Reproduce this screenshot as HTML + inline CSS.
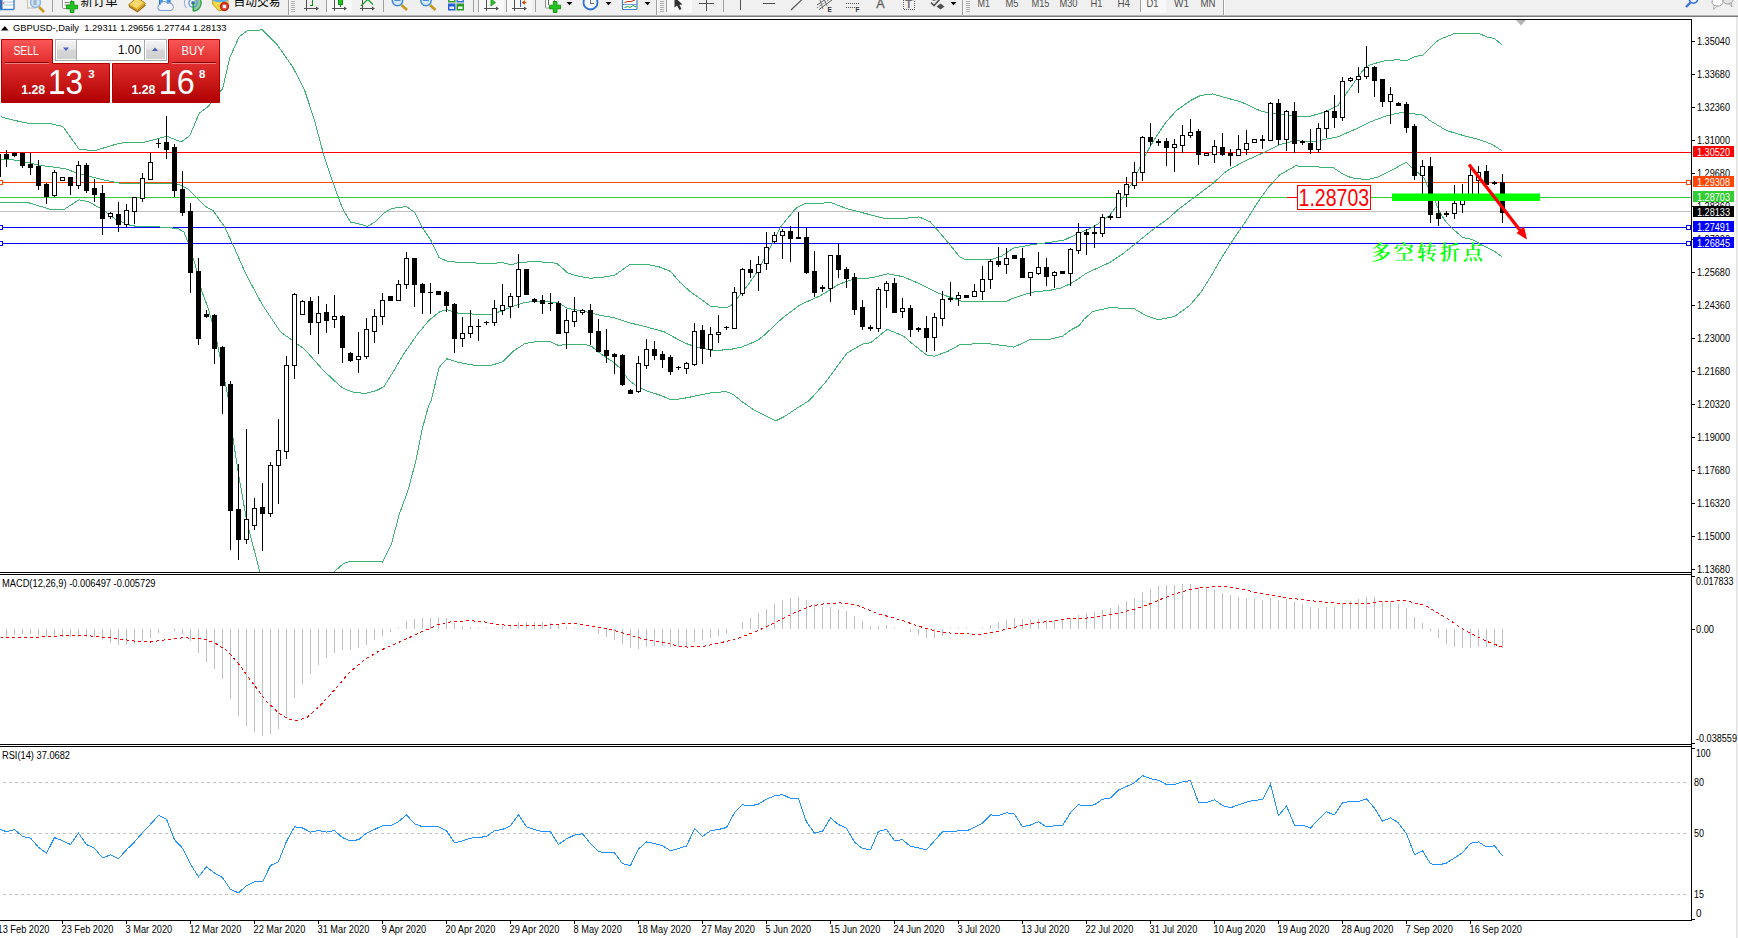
<!DOCTYPE html>
<html lang="zh"><head><meta charset="utf-8"><title>GBPUSD-,Daily</title>
<style>html,body{margin:0;padding:0;background:#fff;overflow:hidden}body{width:1738px;height:938px;position:relative}</style>
</head><body>
<svg width="1738" height="938" viewBox="0 0 1738 938" font-family="Liberation Sans, Arial, sans-serif" style="display:block">
<defs>
<linearGradient id="gr" x1="0" y1="0" x2="0" y2="1"><stop offset="0" stop-color="#fb5757"/><stop offset="0.35" stop-color="#e23030"/><stop offset="1" stop-color="#b00000"/></linearGradient>
<linearGradient id="gb" x1="0" y1="0" x2="0" y2="1"><stop offset="0" stop-color="#f4f4f4"/><stop offset="0.45" stop-color="#e6e6e6"/><stop offset="0.5" stop-color="#d6d6d6"/><stop offset="1" stop-color="#d0d0d0"/></linearGradient>
<linearGradient id="tb" x1="0" y1="0" x2="0" y2="1"><stop offset="0" stop-color="#b8b8b8"/><stop offset="0.5" stop-color="#808080"/><stop offset="1" stop-color="#a0a0a0"/></linearGradient>
<clipPath id="cm"><rect x="0" y="20" width="1691" height="552"/></clipPath>
<clipPath id="cax"><rect x="0" y="921" width="1691" height="17"/></clipPath>
<clipPath id="ctb"><rect x="0" y="0" width="1738" height="15"/></clipPath>
</defs>
<rect width="1738" height="938" fill="#fff"/>
<rect x="0" y="0" width="1738" height="15" fill="#f0f0f0"/>
<rect x="0" y="15" width="1738" height="2" fill="url(#tb)"/>
<rect x="0" y="15" width="1738" height="1" fill="#b4b4b4"/><rect x="0" y="16" width="1738" height="1" fill="#7a7a7a"/>
<g clip-path="url(#ctb)">
<rect x="327" y="0" width="25" height="13" fill="#f8f8f8"/>
<rect x="479" y="0" width="25" height="13" fill="#f8f8f8"/>
<rect x="507" y="0" width="25" height="13" fill="#f8f8f8"/>
<rect x="667" y="0" width="25" height="13" fill="#f8f8f8"/>
<rect x="1141" y="0" width="25" height="13" fill="#f8f8f8"/>
<g shape-rendering="crispEdges">
<rect x="52" y="0" width="1" height="12" fill="#a0a0a0"/>
<rect x="326" y="0" width="1" height="12" fill="#a0a0a0"/>
<rect x="383" y="0" width="1" height="12" fill="#a0a0a0"/>
<rect x="473" y="0" width="1" height="12" fill="#a0a0a0"/>
<rect x="478" y="0" width="1" height="12" fill="#a0a0a0"/>
<rect x="506" y="0" width="1" height="12" fill="#a0a0a0"/>
<rect x="535" y="0" width="1" height="12" fill="#a0a0a0"/>
<rect x="723" y="0" width="1" height="12" fill="#a0a0a0"/>
<rect x="288" y="0" width="1" height="15" fill="#a0a0a0"/><rect x="289" y="0" width="1" height="15" fill="#fdfdfd"/>
<rect x="656" y="0" width="1" height="15" fill="#a0a0a0"/><rect x="657" y="0" width="1" height="15" fill="#fdfdfd"/>
<rect x="962" y="0" width="1" height="15" fill="#a0a0a0"/><rect x="963" y="0" width="1" height="15" fill="#fdfdfd"/>
<rect x="1223" y="0" width="1" height="15" fill="#a0a0a0"/><rect x="1224" y="0" width="1" height="15" fill="#fdfdfd"/>
<rect x="666" y="0" width="1" height="12" fill="#a0a0a0"/>
<rect x="1140" y="0" width="1" height="12" fill="#a0a0a0"/>
<rect x="291" y="1" width="4" height="1" fill="#b0b0b0"/>
<rect x="291" y="3" width="4" height="1" fill="#b0b0b0"/>
<rect x="291" y="5" width="4" height="1" fill="#b0b0b0"/>
<rect x="291" y="7" width="4" height="1" fill="#b0b0b0"/>
<rect x="291" y="9" width="4" height="1" fill="#b0b0b0"/>
<rect x="291" y="11" width="4" height="1" fill="#b0b0b0"/>
<rect x="660" y="1" width="4" height="1" fill="#b0b0b0"/>
<rect x="660" y="3" width="4" height="1" fill="#b0b0b0"/>
<rect x="660" y="5" width="4" height="1" fill="#b0b0b0"/>
<rect x="660" y="7" width="4" height="1" fill="#b0b0b0"/>
<rect x="660" y="9" width="4" height="1" fill="#b0b0b0"/>
<rect x="660" y="11" width="4" height="1" fill="#b0b0b0"/>
<rect x="966" y="1" width="4" height="1" fill="#b0b0b0"/>
<rect x="966" y="3" width="4" height="1" fill="#b0b0b0"/>
<rect x="966" y="5" width="4" height="1" fill="#b0b0b0"/>
<rect x="966" y="7" width="4" height="1" fill="#b0b0b0"/>
<rect x="966" y="9" width="4" height="1" fill="#b0b0b0"/>
<rect x="966" y="11" width="4" height="1" fill="#b0b0b0"/>
</g>
<rect x="-1" y="-3" width="15" height="12.5" rx="1" fill="#fff" stroke="#3f7fd0" stroke-width="1.4"/>
<rect x="0" y="0" width="2.5" height="9" fill="#2f6fc0"/>
<rect x="4" y="1.5" width="9" height="1" fill="#a8c4ee"/><rect x="4" y="4.5" width="9" height="1" fill="#a8c4ee"/><rect x="3" y="2.5" width="1.2" height="1.2" fill="#e02020"/>
<rect x="27.5" y="-2" width="8" height="10" fill="#f6f2e8" stroke="#c8c0b0" stroke-width="1"/>
<line x1="39" y1="7" x2="44" y2="12" stroke="#c89a20" stroke-width="2.6"/>
<circle cx="35.5" cy="2.5" r="5" fill="#cfe2f6" stroke="#8fb4e0" stroke-width="1.4"/>
<rect x="33.5" y="0" width="3" height="5" fill="#9fb4cc"/>
<rect x="62.5" y="-2" width="9" height="10.5" rx="1" fill="#fff" stroke="#909090" stroke-width="1"/>
<rect x="64.5" y="2" width="5" height="1" fill="#808080"/><rect x="64.5" y="4.5" width="5" height="1" fill="#808080"/>
<path d="M70.3,1.5 h3.6 v3.7 h3.7 v3.6 h-3.7 v3.7 h-3.6 v-3.7 h-3.7 v-3.6 h3.7 z" fill="#22c422" stroke="#0f8f0f" stroke-width="0.9"/>
<text x="80.5" y="5.5" font-size="12.5" fill="#000" font-family="Liberation Sans, Noto Sans CJK SC, sans-serif" textLength="37" lengthAdjust="spacingAndGlyphs">新订单</text>
<polygon points="128.5,5 137,-3 145.5,3.5 137.5,10.5" fill="#e8b830" stroke="#b07c10" stroke-width="1"/>
<polygon points="130,4.5 137,-1.5 143,2.5 136.5,8" fill="#f6da70"/>
<polyline points="129,6.5 137.5,11.8 145.5,5" fill="none" stroke="#a06c08" stroke-width="1.2"/>
<rect x="159.5" y="-3" width="10.5" height="8" fill="#3c9cf0" stroke="#1f6fcf" stroke-width="1"/><rect x="163" y="-2" width="3.5" height="5" fill="#fff"/>
<path d="M160,10.5 a3.3,3.3 0 0 1 0.3,-6.3 a4,4 0 0 1 7.2,-0.8 a3.6,3.6 0 0 1 3.6,7.1 z" fill="#f0f4fa" stroke="#7f9fd0" stroke-width="1.1"/>
<path d="M193,3 L193,11 A8,8 0 0 0 201,3 A8,8 0 0 0 197,-4 Z" fill="#8fc89f"/>
<path d="M193,11 A8,8 0 0 0 200.5,0" fill="none" stroke="#3aa050" stroke-width="1.4"/>
<circle cx="193" cy="3" r="4.2" fill="none" stroke="#5f8fe0" stroke-width="1.2"/><path d="M186.5,8 A8,8 0 0 1 186,-2" fill="none" stroke="#8fb0e8" stroke-width="1.2"/>
<circle cx="193" cy="3" r="1.8" fill="#2f5fd0"/><rect x="192.5" y="3" width="1.4" height="8" fill="#20a030"/>
<path d="M212.5,-2 H228 V7 L224,10.5 H218.5 L212.5,4 Z" fill="#f8d848" stroke="#d0a020" stroke-width="1"/>
<path d="M213,-3 H227.5 V1 Q220,3.5 213,1 Z" fill="#5fb0e8"/>
<circle cx="224.5" cy="6.5" r="4.2" fill="#e02818" stroke="#a81808" stroke-width="0.8"/><rect x="222.7" y="4.7" width="3.6" height="3.6" fill="#fff"/>
<text x="233.5" y="5.5" font-size="12.5" fill="#000" font-family="Liberation Sans, Noto Sans CJK SC, sans-serif" textLength="47" lengthAdjust="spacingAndGlyphs">自动交易</text>
<g shape-rendering="crispEdges"><rect x="306" y="0" width="1" height="11" fill="#505050"/><rect x="304" y="8" width="13" height="1" fill="#505050"/></g>
<polygon points="316,6.5 319,8.5 316,10.5" fill="#505050"/>
<g shape-rendering="crispEdges"><rect x="312" y="0" width="1" height="6" fill="#109010"/><rect x="310" y="5" width="2" height="1" fill="#109010"/></g>
<g shape-rendering="crispEdges"><rect x="334" y="0" width="1" height="11" fill="#505050"/><rect x="332" y="8" width="13" height="1" fill="#505050"/></g>
<polygon points="344,6.5 347,8.5 344,10.5" fill="#505050"/>
<rect x="338.5" y="-2" width="4" height="6.5" fill="#22c422" stroke="#109010" stroke-width="1"/><rect x="340" y="5" width="1" height="2" fill="#109010"/>
<g shape-rendering="crispEdges"><rect x="362" y="0" width="1" height="11" fill="#505050"/><rect x="360" y="8" width="13" height="1" fill="#505050"/></g>
<polygon points="372,6.5 375,8.5 372,10.5" fill="#505050"/>
<polyline points="361,6 367,0 368.5,0 373,4.5" fill="none" stroke="#20a030" stroke-width="1.3"/>
<line x1="401.5" y1="5" x2="407.0" y2="10" stroke="#c89a20" stroke-width="2.8"/>
<circle cx="397.5" cy="0.5" r="5.2" fill="#d4e8fa" stroke="#3f8fe0" stroke-width="1.5"/>
<rect x="394.5" y="-1" width="6" height="2" fill="#4f8fd0"/>
<line x1="430" y1="5" x2="435.5" y2="10" stroke="#c89a20" stroke-width="2.8"/>
<circle cx="426" cy="0.5" r="5.2" fill="#d4e8fa" stroke="#3f8fe0" stroke-width="1.5"/>
<rect x="423" y="-1" width="6" height="2" fill="#4f8fd0"/>
<rect x="448" y="-3" width="7.5" height="5.5" fill="#3aa030"/><rect x="456.5" y="-3" width="7.5" height="5.5" fill="#3f6fe0"/>
<rect x="448" y="3.5" width="7.5" height="7" fill="#2f5fd8"/><rect x="456.5" y="3.5" width="7.5" height="7" fill="#2f9a28"/>
<rect x="449.5" y="6.5" width="4.5" height="2.5" fill="#e8f0ff"/><rect x="458" y="6.5" width="4.5" height="2.5" fill="#e8ffe8"/><rect x="449.5" y="-1" width="4.5" height="2" fill="#e8ffe8"/><rect x="458" y="-1" width="4.5" height="2" fill="#e8f0ff"/>
<g shape-rendering="crispEdges"><rect x="486" y="0" width="1" height="11" fill="#505050"/><rect x="484" y="8" width="13" height="1" fill="#505050"/></g>
<polygon points="496,6.5 499,8.5 496,10.5" fill="#505050"/>
<polygon points="491,-1 491,6 495.5,2.5" fill="#30c030" stroke="#109010" stroke-width="0.8"/>
<g shape-rendering="crispEdges"><rect x="514" y="0" width="1" height="11" fill="#505050"/><rect x="512" y="8" width="13" height="1" fill="#505050"/></g>
<polygon points="524,6.5 527,8.5 524,10.5" fill="#505050"/>
<rect x="520" y="0" width="1" height="7" fill="#2060c0" shape-rendering="crispEdges"/><polygon points="521.5,2.5 525,0 525,5" fill="#e05010"/><rect x="524" y="2" width="2.5" height="1" fill="#e05010"/>
<rect x="545.5" y="-2" width="9" height="10" rx="1" fill="#fff" stroke="#909090" stroke-width="1"/>
<rect x="548" y="0" width="1" height="5" fill="#606060"/>
<path d="M553.3,1.5 h3.6 v3.7 h3.7 v3.6 h-3.7 v3.7 h-3.6 v-3.7 h-3.7 v-3.6 h3.7 z" fill="#22c422" stroke="#0f8f0f" stroke-width="0.9"/>
<polygon points="566.5,2 572.5,2 569.5,5.2" fill="#000"/>
<circle cx="590.5" cy="2.5" r="7" fill="#f4f8ff" stroke="#2f6fd8" stroke-width="1.8"/>
<g shape-rendering="crispEdges"><rect x="590" y="0" width="1" height="4" fill="#707070"/><rect x="590" y="3" width="4" height="1" fill="#707070"/></g>
<polygon points="605.5,2 611.5,2 608.5,5.2" fill="#000"/>
<rect x="622.5" y="-2" width="14.5" height="11.5" rx="1" fill="#fff" stroke="#3f7fd0" stroke-width="1.2"/>
<rect x="623" y="4" width="14" height="1" fill="#6f9fe0" shape-rendering="crispEdges"/>
<polyline points="624.5,2.5 628,1.5 631,1.5 635,0" fill="none" stroke="#c03010" stroke-width="1"/>
<polyline points="624.5,7.5 628,6.5 630,7.5 633,5.5 636,7" fill="none" stroke="#20a030" stroke-width="1"/>
<polygon points="644.5,2 650.5,2 647.5,5.2" fill="#000"/>
<polygon points="674.5,-3 674.5,7.5 677,5.5 679.5,10 681.5,9 679.3,4.8 682.5,4.5" fill="#303030"/>
<g shape-rendering="crispEdges"><rect x="706" y="0" width="1" height="11" fill="#505050"/><rect x="699" y="3" width="15" height="1" fill="#505050"/></g>
<g shape-rendering="crispEdges"><rect x="740" y="0" width="1" height="10" fill="#505050"/><rect x="763" y="3" width="12" height="1" fill="#505050"/></g>
<line x1="791" y1="10" x2="802" y2="-0.5" stroke="#505050" stroke-width="1.1"/>
<line x1="817" y1="5" x2="829" y2="-3" stroke="#606060" stroke-width="1"/><line x1="819" y1="9.5" x2="832" y2="0" stroke="#606060" stroke-width="1"/><line x1="817" y1="8" x2="830" y2="-1" stroke="#606060" stroke-width="1" stroke-dasharray="1 1"/>
<line x1="820" y1="0" x2="823" y2="9" stroke="#606060" stroke-width="0.8"/><line x1="824" y1="-1" x2="827" y2="6" stroke="#606060" stroke-width="0.8"/>
<text x="827.5" y="12" font-size="6.5" font-weight="bold" fill="#303030">E</text>
<g shape-rendering="crispEdges"><line x1="846" y1="3.5" x2="860" y2="3.5" stroke="#505050" stroke-dasharray="1 1"/><line x1="846" y1="7.5" x2="856" y2="7.5" stroke="#505050" stroke-dasharray="1 1"/></g>
<text x="855.5" y="12" font-size="6.5" font-weight="bold" fill="#303030">F</text>
<text x="876.3" y="7.7" font-size="12.5" fill="#686868" stroke="#686868" stroke-width="0.35">A</text>
<rect x="903.5" y="-2" width="11" height="11.5" fill="none" stroke="#606060" stroke-width="1" stroke-dasharray="1 1"/>
<text x="905.3" y="7.5" font-size="11.5" fill="#686868" stroke="#686868" stroke-width="0.4">T</text>
<polyline points="931,2.5 934,5.5 940,-1" fill="none" stroke="#505050" stroke-width="1.6"/><polygon points="936.5,6.5 940.5,3.5 944.5,6.5 940.5,9.5" fill="#505050"/><polygon points="930,-1 934,-3 938,-1 934,1" fill="#505050"/>
<polygon points="950.5,2 956.5,2 953.5,5.2" fill="#000"/>
<text x="977.5" y="6.8" font-size="11" fill="#505050" textLength="12.5" lengthAdjust="spacingAndGlyphs">M1</text>
<text x="1005.5" y="6.8" font-size="11" fill="#505050" textLength="13" lengthAdjust="spacingAndGlyphs">M5</text>
<text x="1031.5" y="6.8" font-size="11" fill="#505050" textLength="18" lengthAdjust="spacingAndGlyphs">M15</text>
<text x="1059.5" y="6.8" font-size="11" fill="#505050" textLength="18" lengthAdjust="spacingAndGlyphs">M30</text>
<text x="1090.5" y="6.8" font-size="11" fill="#505050" textLength="12" lengthAdjust="spacingAndGlyphs">H1</text>
<text x="1117.5" y="6.8" font-size="11" fill="#505050" textLength="12.5" lengthAdjust="spacingAndGlyphs">H4</text>
<text x="1146.5" y="6.8" font-size="11" fill="#505050" textLength="12" lengthAdjust="spacingAndGlyphs">D1</text>
<text x="1174" y="6.8" font-size="11" fill="#505050" textLength="15" lengthAdjust="spacingAndGlyphs">W1</text>
<text x="1200.5" y="6.8" font-size="11" fill="#505050" textLength="15" lengthAdjust="spacingAndGlyphs">MN</text>
<line x1="1686" y1="7" x2="1690.5" y2="2.5" stroke="#3a6fe0" stroke-width="2.4"/><circle cx="1693.5" cy="-1" r="4.2" fill="#f0f0f0" stroke="#3a6fe0" stroke-width="1.6"/>
<ellipse cx="1717.5" cy="2" rx="5.5" ry="4.2" fill="#fafafa" stroke="#a0a0a0" stroke-width="1"/><polygon points="1714,5.5 1713.5,9.5 1717.5,6" fill="#fafafa" stroke="#a0a0a0" stroke-width="0.8"/>
<ellipse cx="1728" cy="0" rx="5" ry="4" fill="#e4e4e4" stroke="#a0a0a0" stroke-width="1"/><polygon points="1729,3.5 1732,7 1731.5,3" fill="#e4e4e4" stroke="#a0a0a0" stroke-width="0.8"/>
</g>
<g shape-rendering="crispEdges">
<rect x="0" y="19" width="1692" height="1" fill="#000"/>
<rect x="1691" y="19" width="1" height="902" fill="#000"/>
<rect x="0" y="572" width="1692" height="1" fill="#000"/>
<rect x="0" y="574" width="1692" height="1" fill="#000"/>
<rect x="0" y="744" width="1692" height="1" fill="#000"/>
<rect x="0" y="746" width="1692" height="1" fill="#000"/>
<rect x="0" y="920" width="1692" height="1" fill="#000"/>
<rect x="1736" y="17" width="1" height="921" fill="#e3e3e3"/>
<rect x="1737" y="17" width="1" height="921" fill="#f0f0f0"/>
</g>
<g clip-path="url(#cm)">
<g shape-rendering="crispEdges">
<rect x="0" y="152" width="1691" height="1" fill="#ff0000"/>
<rect x="0" y="182" width="1691" height="1" fill="#ff4500"/>
<rect x="0" y="197" width="1691" height="1" fill="#32cd32"/>
<rect x="0" y="211" width="1691" height="1" fill="#c0c0c0"/>
<rect x="0" y="227" width="1691" height="1" fill="#0000ff"/>
<rect x="0" y="243" width="1691" height="1" fill="#0000ff"/>
</g>
<polyline points="0.5,116.7 10.7,119.6 29.5,123.5 51.7,124.0 62.8,126.5 79.0,149.1 94.3,150.8 119.9,143.1 145.5,142.0 166.8,136.3 181.3,142.0 189.9,135.4 199.3,113.1 208.6,106.1 222.7,88.5 229.7,58.0 239.1,36.9 247.3,30.6 262.6,29.9 276.6,43.9 293.0,67.4 304.8,90.8 314.1,119.0 323.5,154.1 332.9,182.3 342.3,208.1 350.5,222.1 359.6,224.1 367.4,226.3 375.3,221.8 384.2,212.9 392.1,208.4 406.6,206.6 414.4,212.2 422.3,227.4 431.2,240.9 439.1,257.7 446.9,261.0 460.3,262.6 487.2,263.3 502.9,262.8 511.8,264.8 518.5,262.6 532.0,261.7 545.4,262.1 556.6,263.3 563.3,268.9 567.7,273.0 578.9,276.4 590.1,278.2 601.3,277.5 614.7,275.3 630.4,264.1 646.0,264.1 659.5,267.0 670.7,271.5 679.6,282.0 690.8,292.1 702.0,299.9 711.0,306.6 719.9,307.1 726.6,308.0 731.1,305.5 737.8,297.7 746.8,286.5 758.0,270.8 769.2,249.5 780.2,227.4 795.8,208.4 804.8,203.5 831.7,202.8 847.3,208.9 867.5,214.0 886.5,218.9 903.3,218.5 919.0,216.9 930.2,221.8 939.1,231.9 950.3,245.3 959.3,256.5 966.0,259.9 979.4,259.5 990.6,259.9 1001.9,256.0 1013.1,248.2 1033.3,244.4 1048.9,242.6 1064.6,239.9 1078.0,233.6 1093.7,226.9 1109.4,215.7 1122.8,197.8 1134.0,179.9 1145.2,155.3 1154.2,139.6 1165.4,122.8 1176.5,110.5 1190.5,100.5 1200.5,95.5 1212.5,93.9 1225.9,97.7 1241.6,102.1 1261.7,111.5 1279.7,114.4 1295.3,116.0 1311.0,116.0 1324.4,112.2 1337.9,105.5 1351.3,86.5 1362.5,70.8 1369.2,65.2 1382.6,61.2 1398.3,59.6 1405.6,61.0 1415.0,56.7 1423.1,54.9 1434.6,43.1 1438.9,39.9 1446.5,36.7 1453.4,34.0 1459.3,33.0 1474.7,33.0 1480.6,34.1 1486.6,36.9 1494.3,38.4 1502.4,45.2" fill="none" stroke="#3cb371" stroke-width="1" shape-rendering="crispEdges"/>
<polyline points="0.5,159.3 17.5,160.2 39.7,165.3 65.3,168.7 79.0,173.8 102.8,179.8 119.9,183.2 154.0,183.7 177.9,184.1 188.1,189.2 205.2,206.3 213.0,210.6 224.2,226.3 233.2,245.3 246.6,275.5 262.3,304.7 280.2,331.5 292.5,340.5 304.8,349.5 322.7,369.6 334.0,380.5 342.3,387.8 351.7,391.9 365.2,393.6 376.7,390.5 383.9,386.7 393.2,371.8 404.4,352.8 417.8,333.8 429.0,320.3 440.2,311.4 446.9,309.8 458.1,313.2 473.8,314.1 489.4,314.7 500.6,311.4 514.1,305.8 525.3,302.4 536.5,301.3 549.9,301.8 558.8,303.1 567.7,308.4 583.4,311.1 601.3,315.6 614.7,317.8 630.4,323.0 646.0,326.8 664.0,331.7 677.4,339.1 686.3,343.6 699.8,348.0 713.2,350.3 728.9,349.8 742.3,346.9 758.0,340.2 764.5,334.9 782.4,318.1 800.3,304.7 820.5,295.7 838.4,284.5 854.0,278.9 872.0,277.8 887.6,273.8 903.3,276.7 921.2,284.5 939.1,293.5 952.5,298.0 963.7,301.8 979.4,301.8 990.5,301.8 1002.2,301.8 1008.1,300.8 1011.8,298.6 1026.8,293.8 1035.3,291.7 1050.2,290.3 1060.9,288.0 1069.4,284.2 1075.8,280.5 1087.0,272.8 1109.4,262.7 1122.8,253.8 1134.0,244.8 1145.2,235.9 1156.4,226.9 1167.6,219.1 1178.8,209.0 1192.2,198.9 1205.6,188.9 1212.5,183.8 1225.9,171.5 1243.8,161.5 1264.0,152.5 1279.7,144.7 1295.3,140.6 1311.0,142.0 1324.4,139.5 1337.9,136.8 1355.8,129.0 1369.2,122.3 1387.1,115.6 1402.8,112.2 1422.9,115.1 1430.5,120.9 1446.5,130.5 1462.5,135.3 1478.5,139.3 1491.3,144.1 1502.2,150.8" fill="none" stroke="#3cb371" stroke-width="1" shape-rendering="crispEdges"/>
<polyline points="0.5,202.8 26.1,202.0 51.7,209.7 63.6,209.7 79.0,199.8 89.2,202.0 102.8,209.7 116.5,219.9 131.8,225.9 162.5,227.1 177.9,228.5 183.9,231.9 188.4,243.1 195.1,264.4 201.8,291.2 208.5,309.1 215.3,333.8 225.3,383.0 228.7,400.5 233.3,440.4 238.7,475.3 246.4,519.0 252.9,545.2 259.9,572.0" fill="none" stroke="#3cb371" stroke-width="1" shape-rendering="crispEdges"/>
<polyline points="334.0,571.9 343.4,563.6 350.7,561.1 378.7,561.1 382.5,562.1 391.2,544.8 399.5,513.6 407.9,490.8 416.2,459.6 422.4,428.3 428.7,405.5 431.2,400.5 439.1,367.4 446.9,358.8 458.1,362.4 473.8,365.1 489.4,365.8 502.9,361.8 514.1,350.6 525.3,343.4 536.5,341.6 549.9,341.6 558.8,345.6 567.7,344.0 584.5,344.0 592.3,346.9 601.3,354.3 612.5,361.5 621.4,369.3 628.1,379.4 634.9,385.0 646.0,390.6 659.5,395.0 671.8,400.0 686.3,397.9 699.8,395.0 713.2,392.4 726.6,391.7 733.3,394.6 742.3,401.8 753.5,409.6 764.7,415.2 775.9,420.8 784.8,416.3 796.5,408.5 809.3,400.5 824.9,383.0 847.3,352.8 863.0,343.8 870.8,342.7 887.2,329.3 903.3,336.0 916.7,347.2 926.8,355.0 934.6,356.2 948.1,351.2 959.3,345.0 974.9,343.8 990.5,343.9 1003.3,345.5 1014.0,347.1 1029.9,339.7 1048.1,339.7 1063.0,335.9 1071.5,329.5 1079.0,325.8 1084.3,318.9 1092.9,311.4 1108.9,307.9 1115.2,307.9 1134.0,308.6 1145.2,315.3 1158.6,319.8 1174.3,316.5 1190.0,305.3 1201.2,291.8 1212.4,273.9 1221.3,258.3 1232.6,240.5 1246.1,220.8 1257.3,202.9 1268.5,187.2 1279.7,174.9 1295.3,165.9 1311.0,166.6 1333.4,167.7 1342.3,173.8 1351.3,177.8 1367.0,179.8 1378.2,177.1 1391.6,170.4 1400.5,165.2 1406.7,162.4 1413.0,168.9 1418.5,173.1 1424.1,177.9 1428.2,187.6 1435.2,201.5 1440.7,214.0 1446.3,222.3 1453.2,229.2 1462.9,237.6 1472.6,239.6 1483.7,245.9 1494.8,251.4 1502.4,257.2" fill="none" stroke="#3cb371" stroke-width="1" shape-rendering="crispEdges"/>
<g shape-rendering="crispEdges">
<rect x="-1.5" y="180.5" width="4" height="4" fill="#fff" stroke="#ff4500" stroke-width="1"/>
<rect x="1686.5" y="180.5" width="4" height="4" fill="#fff" stroke="#ff4500" stroke-width="1"/>
<rect x="-1.5" y="225.5" width="4" height="4" fill="#fff" stroke="#0000ff" stroke-width="1"/>
<rect x="1686.5" y="225.5" width="4" height="4" fill="#fff" stroke="#0000ff" stroke-width="1"/>
<rect x="-1.5" y="241.5" width="4" height="4" fill="#fff" stroke="#0000ff" stroke-width="1"/>
<rect x="1686.5" y="241.5" width="4" height="4" fill="#fff" stroke="#0000ff" stroke-width="1"/>
<rect x="-2" y="150" width="1" height="29" fill="#000"/>
<rect x="-4" y="154" width="5" height="23" fill="#000"/>
<rect x="6" y="150" width="1" height="17" fill="#000"/>
<rect x="4" y="154" width="5" height="5" fill="#000"/>
<rect x="14" y="152" width="1" height="5" fill="#000"/>
<rect x="12" y="153" width="5" height="3" fill="#000"/>
<rect x="22" y="152" width="1" height="16" fill="#000"/>
<rect x="20" y="153" width="5" height="13" fill="#000"/>
<rect x="30" y="153" width="1" height="22" fill="#000"/>
<rect x="28" y="164" width="5" height="4" fill="#000"/>
<rect x="38" y="160" width="1" height="30" fill="#000"/>
<rect x="36" y="166" width="5" height="20" fill="#000"/>
<rect x="46" y="183" width="1" height="21" fill="#000"/>
<rect x="44" y="184" width="5" height="13" fill="#000"/>
<rect x="54" y="170" width="1" height="27" fill="#000"/>
<rect x="52.5" y="172.5" width="4" height="23" fill="#fff" stroke="#000" stroke-width="1"/>
<rect x="62" y="177" width="1" height="4" fill="#000"/>
<rect x="60.5" y="177.5" width="4" height="3" fill="#fff" stroke="#000" stroke-width="1"/>
<rect x="70" y="177" width="1" height="18" fill="#000"/>
<rect x="68" y="177" width="5" height="9" fill="#000"/>
<rect x="78" y="161" width="1" height="28" fill="#000"/>
<rect x="76.5" y="165.5" width="4" height="20" fill="#fff" stroke="#000" stroke-width="1"/>
<rect x="86" y="163" width="1" height="30" fill="#000"/>
<rect x="84" y="165" width="5" height="26" fill="#000"/>
<rect x="94" y="179" width="1" height="23" fill="#000"/>
<rect x="92" y="188" width="5" height="7" fill="#000"/>
<rect x="102" y="185" width="1" height="50" fill="#000"/>
<rect x="100" y="193" width="5" height="26" fill="#000"/>
<rect x="110" y="212" width="1" height="7" fill="#000"/>
<rect x="108.5" y="213.5" width="4" height="3" fill="#fff" stroke="#000" stroke-width="1"/>
<rect x="118" y="202" width="1" height="30" fill="#000"/>
<rect x="116" y="214" width="5" height="11" fill="#000"/>
<rect x="126" y="204" width="1" height="23" fill="#000"/>
<rect x="124.5" y="210.5" width="4" height="14" fill="#fff" stroke="#000" stroke-width="1"/>
<rect x="134" y="197" width="1" height="27" fill="#000"/>
<rect x="132.5" y="197.5" width="4" height="14" fill="#fff" stroke="#000" stroke-width="1"/>
<rect x="142" y="173" width="1" height="29" fill="#000"/>
<rect x="140.5" y="178.5" width="4" height="20" fill="#fff" stroke="#000" stroke-width="1"/>
<rect x="150" y="153" width="1" height="27" fill="#000"/>
<rect x="148.5" y="162.5" width="4" height="17" fill="#fff" stroke="#000" stroke-width="1"/>
<rect x="158" y="139" width="1" height="9" fill="#000"/>
<rect x="156" y="143" width="5" height="1" fill="#000"/>
<rect x="166" y="116" width="1" height="43" fill="#000"/>
<rect x="164" y="142" width="5" height="8" fill="#000"/>
<rect x="174" y="144" width="1" height="53" fill="#000"/>
<rect x="172" y="147" width="5" height="44" fill="#000"/>
<rect x="182" y="171" width="1" height="45" fill="#000"/>
<rect x="180" y="189" width="5" height="24" fill="#000"/>
<rect x="190" y="203" width="1" height="90" fill="#000"/>
<rect x="188" y="211" width="5" height="62" fill="#000"/>
<rect x="198" y="258" width="1" height="87" fill="#000"/>
<rect x="196" y="271" width="5" height="68" fill="#000"/>
<rect x="206" y="310" width="1" height="8" fill="#000"/>
<rect x="204" y="314" width="5" height="3" fill="#000"/>
<rect x="214" y="314" width="1" height="50" fill="#000"/>
<rect x="212" y="315" width="5" height="34" fill="#000"/>
<rect x="222" y="346" width="1" height="68" fill="#000"/>
<rect x="220" y="347" width="5" height="39" fill="#000"/>
<rect x="230" y="381" width="1" height="169" fill="#000"/>
<rect x="228" y="384" width="5" height="127" fill="#000"/>
<rect x="238" y="464" width="1" height="96" fill="#000"/>
<rect x="236" y="509" width="5" height="31" fill="#000"/>
<rect x="246" y="429" width="1" height="115" fill="#000"/>
<rect x="244.5" y="519.5" width="4" height="20" fill="#fff" stroke="#000" stroke-width="1"/>
<rect x="254" y="498" width="1" height="32" fill="#000"/>
<rect x="252.5" y="508.5" width="4" height="17" fill="#fff" stroke="#000" stroke-width="1"/>
<rect x="262" y="483" width="1" height="68" fill="#000"/>
<rect x="260" y="507" width="5" height="7" fill="#000"/>
<rect x="270" y="462" width="1" height="55" fill="#000"/>
<rect x="268.5" y="465.5" width="4" height="48" fill="#fff" stroke="#000" stroke-width="1"/>
<rect x="278" y="419" width="1" height="85" fill="#000"/>
<rect x="276.5" y="450.5" width="4" height="15" fill="#fff" stroke="#000" stroke-width="1"/>
<rect x="286" y="356" width="1" height="103" fill="#000"/>
<rect x="284.5" y="365.5" width="4" height="86" fill="#fff" stroke="#000" stroke-width="1"/>
<rect x="294" y="293" width="1" height="86" fill="#000"/>
<rect x="292.5" y="294.5" width="4" height="71" fill="#fff" stroke="#000" stroke-width="1"/>
<rect x="302" y="300" width="1" height="15" fill="#000"/>
<rect x="300.5" y="301.5" width="4" height="13" fill="#fff" stroke="#000" stroke-width="1"/>
<rect x="310" y="297" width="1" height="38" fill="#000"/>
<rect x="308" y="301" width="5" height="22" fill="#000"/>
<rect x="318" y="296" width="1" height="58" fill="#000"/>
<rect x="316.5" y="313.5" width="4" height="9" fill="#fff" stroke="#000" stroke-width="1"/>
<rect x="326" y="304" width="1" height="29" fill="#000"/>
<rect x="324" y="312" width="5" height="9" fill="#000"/>
<rect x="334" y="295" width="1" height="33" fill="#000"/>
<rect x="332.5" y="316.5" width="4" height="3" fill="#fff" stroke="#000" stroke-width="1"/>
<rect x="342" y="315" width="1" height="48" fill="#000"/>
<rect x="340" y="316" width="5" height="32" fill="#000"/>
<rect x="350" y="352" width="1" height="10" fill="#000"/>
<rect x="348" y="353" width="5" height="8" fill="#000"/>
<rect x="358" y="332" width="1" height="41" fill="#000"/>
<rect x="356.5" y="356.5" width="4" height="3" fill="#fff" stroke="#000" stroke-width="1"/>
<rect x="366" y="318" width="1" height="41" fill="#000"/>
<rect x="364.5" y="329.5" width="4" height="27" fill="#fff" stroke="#000" stroke-width="1"/>
<rect x="374" y="309" width="1" height="34" fill="#000"/>
<rect x="372.5" y="316.5" width="4" height="15" fill="#fff" stroke="#000" stroke-width="1"/>
<rect x="382" y="293" width="1" height="32" fill="#000"/>
<rect x="380.5" y="300.5" width="4" height="16" fill="#fff" stroke="#000" stroke-width="1"/>
<rect x="390" y="296" width="1" height="5" fill="#000"/>
<rect x="388" y="296" width="5" height="5" fill="#000"/>
<rect x="398" y="280" width="1" height="21" fill="#000"/>
<rect x="396.5" y="284.5" width="4" height="16" fill="#fff" stroke="#000" stroke-width="1"/>
<rect x="406" y="252" width="1" height="37" fill="#000"/>
<rect x="404.5" y="258.5" width="4" height="26" fill="#fff" stroke="#000" stroke-width="1"/>
<rect x="414" y="258" width="1" height="49" fill="#000"/>
<rect x="412" y="258" width="5" height="27" fill="#000"/>
<rect x="422" y="283" width="1" height="31" fill="#000"/>
<rect x="420" y="284" width="5" height="9" fill="#000"/>
<rect x="430" y="283" width="1" height="31" fill="#000"/>
<rect x="428" y="292" width="5" height="1" fill="#000"/>
<rect x="438" y="291" width="1" height="4" fill="#000"/>
<rect x="436" y="291" width="5" height="4" fill="#000"/>
<rect x="446" y="291" width="1" height="21" fill="#000"/>
<rect x="444" y="292" width="5" height="14" fill="#000"/>
<rect x="454" y="303" width="1" height="50" fill="#000"/>
<rect x="452" y="304" width="5" height="35" fill="#000"/>
<rect x="462" y="317" width="1" height="30" fill="#000"/>
<rect x="460.5" y="333.5" width="4" height="5" fill="#fff" stroke="#000" stroke-width="1"/>
<rect x="470" y="310" width="1" height="28" fill="#000"/>
<rect x="468.5" y="326.5" width="4" height="7" fill="#fff" stroke="#000" stroke-width="1"/>
<rect x="478" y="319" width="1" height="22" fill="#000"/>
<rect x="476" y="326" width="5" height="1" fill="#000"/>
<rect x="486" y="321" width="1" height="4" fill="#000"/>
<rect x="484" y="322" width="5" height="1" fill="#000"/>
<rect x="494" y="300" width="1" height="26" fill="#000"/>
<rect x="492.5" y="308.5" width="4" height="14" fill="#fff" stroke="#000" stroke-width="1"/>
<rect x="502" y="284" width="1" height="31" fill="#000"/>
<rect x="500.5" y="305.5" width="4" height="5" fill="#fff" stroke="#000" stroke-width="1"/>
<rect x="510" y="293" width="1" height="25" fill="#000"/>
<rect x="508.5" y="296.5" width="4" height="10" fill="#fff" stroke="#000" stroke-width="1"/>
<rect x="518" y="254" width="1" height="54" fill="#000"/>
<rect x="516.5" y="269.5" width="4" height="27" fill="#fff" stroke="#000" stroke-width="1"/>
<rect x="526" y="269" width="1" height="26" fill="#000"/>
<rect x="524" y="269" width="5" height="26" fill="#000"/>
<rect x="534" y="298" width="1" height="5" fill="#000"/>
<rect x="532" y="299" width="5" height="3" fill="#000"/>
<rect x="542" y="295" width="1" height="19" fill="#000"/>
<rect x="540" y="300" width="5" height="4" fill="#000"/>
<rect x="550" y="293" width="1" height="18" fill="#000"/>
<rect x="548" y="303" width="5" height="1" fill="#000"/>
<rect x="558" y="301" width="1" height="33" fill="#000"/>
<rect x="556" y="303" width="5" height="31" fill="#000"/>
<rect x="566" y="309" width="1" height="40" fill="#000"/>
<rect x="564.5" y="320.5" width="4" height="12" fill="#fff" stroke="#000" stroke-width="1"/>
<rect x="574" y="297" width="1" height="30" fill="#000"/>
<rect x="572.5" y="311.5" width="4" height="10" fill="#fff" stroke="#000" stroke-width="1"/>
<rect x="582" y="309" width="1" height="6" fill="#000"/>
<rect x="580.5" y="310.5" width="4" height="2" fill="#fff" stroke="#000" stroke-width="1"/>
<rect x="590" y="304" width="1" height="41" fill="#000"/>
<rect x="588" y="310" width="5" height="23" fill="#000"/>
<rect x="598" y="319" width="1" height="33" fill="#000"/>
<rect x="596" y="331" width="5" height="21" fill="#000"/>
<rect x="606" y="329" width="1" height="34" fill="#000"/>
<rect x="604" y="350" width="5" height="6" fill="#000"/>
<rect x="614" y="353" width="1" height="21" fill="#000"/>
<rect x="612" y="354" width="5" height="3" fill="#000"/>
<rect x="622" y="354" width="1" height="32" fill="#000"/>
<rect x="620" y="355" width="5" height="30" fill="#000"/>
<rect x="630" y="389" width="1" height="5" fill="#000"/>
<rect x="628" y="390" width="5" height="4" fill="#000"/>
<rect x="638" y="356" width="1" height="37" fill="#000"/>
<rect x="636.5" y="363.5" width="4" height="28" fill="#fff" stroke="#000" stroke-width="1"/>
<rect x="646" y="339" width="1" height="30" fill="#000"/>
<rect x="644.5" y="349.5" width="4" height="16" fill="#fff" stroke="#000" stroke-width="1"/>
<rect x="654" y="341" width="1" height="19" fill="#000"/>
<rect x="652" y="349" width="5" height="7" fill="#000"/>
<rect x="662" y="351" width="1" height="17" fill="#000"/>
<rect x="660" y="354" width="5" height="6" fill="#000"/>
<rect x="670" y="355" width="1" height="20" fill="#000"/>
<rect x="668" y="357" width="5" height="15" fill="#000"/>
<rect x="678" y="366" width="1" height="4" fill="#000"/>
<rect x="676" y="367" width="5" height="1" fill="#000"/>
<rect x="686" y="362" width="1" height="12" fill="#000"/>
<rect x="684.5" y="363.5" width="4" height="5" fill="#fff" stroke="#000" stroke-width="1"/>
<rect x="694" y="323" width="1" height="43" fill="#000"/>
<rect x="692.5" y="331.5" width="4" height="33" fill="#fff" stroke="#000" stroke-width="1"/>
<rect x="702" y="325" width="1" height="39" fill="#000"/>
<rect x="700" y="330" width="5" height="19" fill="#000"/>
<rect x="710" y="327" width="1" height="30" fill="#000"/>
<rect x="708.5" y="334.5" width="4" height="15" fill="#fff" stroke="#000" stroke-width="1"/>
<rect x="718" y="315" width="1" height="28" fill="#000"/>
<rect x="716.5" y="332.5" width="4" height="2" fill="#fff" stroke="#000" stroke-width="1"/>
<rect x="726" y="326" width="1" height="4" fill="#000"/>
<rect x="724" y="327" width="5" height="1" fill="#000"/>
<rect x="734" y="287" width="1" height="42" fill="#000"/>
<rect x="732.5" y="292.5" width="4" height="36" fill="#fff" stroke="#000" stroke-width="1"/>
<rect x="742" y="268" width="1" height="28" fill="#000"/>
<rect x="740.5" y="269.5" width="4" height="24" fill="#fff" stroke="#000" stroke-width="1"/>
<rect x="750" y="260" width="1" height="18" fill="#000"/>
<rect x="748" y="269" width="5" height="4" fill="#000"/>
<rect x="758" y="256" width="1" height="35" fill="#000"/>
<rect x="756.5" y="264.5" width="4" height="8" fill="#fff" stroke="#000" stroke-width="1"/>
<rect x="766" y="232" width="1" height="38" fill="#000"/>
<rect x="764.5" y="247.5" width="4" height="16" fill="#fff" stroke="#000" stroke-width="1"/>
<rect x="774" y="232" width="1" height="11" fill="#000"/>
<rect x="772.5" y="235.5" width="4" height="6" fill="#fff" stroke="#000" stroke-width="1"/>
<rect x="782" y="229" width="1" height="30" fill="#000"/>
<rect x="780.5" y="231.5" width="4" height="4" fill="#fff" stroke="#000" stroke-width="1"/>
<rect x="790" y="226" width="1" height="36" fill="#000"/>
<rect x="788" y="231" width="5" height="8" fill="#000"/>
<rect x="798" y="212" width="1" height="27" fill="#000"/>
<rect x="796" y="237" width="5" height="2" fill="#000"/>
<rect x="806" y="228" width="1" height="46" fill="#000"/>
<rect x="804" y="237" width="5" height="36" fill="#000"/>
<rect x="814" y="251" width="1" height="46" fill="#000"/>
<rect x="812" y="271" width="5" height="22" fill="#000"/>
<rect x="822" y="285" width="1" height="7" fill="#000"/>
<rect x="820" y="287" width="5" height="2" fill="#000"/>
<rect x="830" y="255" width="1" height="47" fill="#000"/>
<rect x="828.5" y="255.5" width="4" height="33" fill="#fff" stroke="#000" stroke-width="1"/>
<rect x="838" y="244" width="1" height="34" fill="#000"/>
<rect x="836" y="255" width="5" height="15" fill="#000"/>
<rect x="846" y="267" width="1" height="21" fill="#000"/>
<rect x="844" y="269" width="5" height="10" fill="#000"/>
<rect x="854" y="273" width="1" height="42" fill="#000"/>
<rect x="852" y="277" width="5" height="33" fill="#000"/>
<rect x="862" y="300" width="1" height="30" fill="#000"/>
<rect x="860" y="307" width="5" height="20" fill="#000"/>
<rect x="870" y="325" width="1" height="6" fill="#000"/>
<rect x="868" y="327" width="5" height="2" fill="#000"/>
<rect x="878" y="287" width="1" height="45" fill="#000"/>
<rect x="876.5" y="289.5" width="4" height="39" fill="#fff" stroke="#000" stroke-width="1"/>
<rect x="886" y="281" width="1" height="27" fill="#000"/>
<rect x="884.5" y="283.5" width="4" height="7" fill="#fff" stroke="#000" stroke-width="1"/>
<rect x="894" y="278" width="1" height="35" fill="#000"/>
<rect x="892" y="283" width="5" height="30" fill="#000"/>
<rect x="902" y="298" width="1" height="20" fill="#000"/>
<rect x="900.5" y="308.5" width="4" height="3" fill="#fff" stroke="#000" stroke-width="1"/>
<rect x="910" y="305" width="1" height="32" fill="#000"/>
<rect x="908" y="308" width="5" height="22" fill="#000"/>
<rect x="918" y="327" width="1" height="5" fill="#000"/>
<rect x="916" y="328" width="5" height="2" fill="#000"/>
<rect x="926" y="316" width="1" height="36" fill="#000"/>
<rect x="924" y="328" width="5" height="10" fill="#000"/>
<rect x="934" y="313" width="1" height="38" fill="#000"/>
<rect x="932.5" y="317.5" width="4" height="20" fill="#fff" stroke="#000" stroke-width="1"/>
<rect x="942" y="291" width="1" height="35" fill="#000"/>
<rect x="940.5" y="299.5" width="4" height="19" fill="#fff" stroke="#000" stroke-width="1"/>
<rect x="950" y="282" width="1" height="20" fill="#000"/>
<rect x="948" y="298" width="5" height="2" fill="#000"/>
<rect x="958" y="292" width="1" height="14" fill="#000"/>
<rect x="956.5" y="295.5" width="4" height="3" fill="#fff" stroke="#000" stroke-width="1"/>
<rect x="966" y="295" width="1" height="3" fill="#000"/>
<rect x="964" y="295" width="5" height="3" fill="#000"/>
<rect x="974" y="284" width="1" height="13" fill="#000"/>
<rect x="972.5" y="291.5" width="4" height="5" fill="#fff" stroke="#000" stroke-width="1"/>
<rect x="982" y="266" width="1" height="34" fill="#000"/>
<rect x="980.5" y="279.5" width="4" height="12" fill="#fff" stroke="#000" stroke-width="1"/>
<rect x="990" y="259" width="1" height="30" fill="#000"/>
<rect x="988.5" y="261.5" width="4" height="18" fill="#fff" stroke="#000" stroke-width="1"/>
<rect x="998" y="247" width="1" height="20" fill="#000"/>
<rect x="996" y="261" width="5" height="4" fill="#000"/>
<rect x="1006" y="248" width="1" height="26" fill="#000"/>
<rect x="1004.5" y="258.5" width="4" height="6" fill="#fff" stroke="#000" stroke-width="1"/>
<rect x="1014" y="255" width="1" height="4" fill="#000"/>
<rect x="1012" y="255" width="5" height="4" fill="#000"/>
<rect x="1022" y="248" width="1" height="30" fill="#000"/>
<rect x="1020" y="258" width="5" height="20" fill="#000"/>
<rect x="1030" y="272" width="1" height="24" fill="#000"/>
<rect x="1028.5" y="272.5" width="4" height="5" fill="#fff" stroke="#000" stroke-width="1"/>
<rect x="1038" y="252" width="1" height="23" fill="#000"/>
<rect x="1036.5" y="267.5" width="4" height="6" fill="#fff" stroke="#000" stroke-width="1"/>
<rect x="1046" y="258" width="1" height="28" fill="#000"/>
<rect x="1044" y="267" width="5" height="10" fill="#000"/>
<rect x="1054" y="271" width="1" height="17" fill="#000"/>
<rect x="1052.5" y="272.5" width="4" height="3" fill="#fff" stroke="#000" stroke-width="1"/>
<rect x="1062" y="271" width="1" height="3" fill="#000"/>
<rect x="1060" y="271" width="5" height="3" fill="#000"/>
<rect x="1070" y="248" width="1" height="38" fill="#000"/>
<rect x="1068.5" y="249.5" width="4" height="24" fill="#fff" stroke="#000" stroke-width="1"/>
<rect x="1078" y="223" width="1" height="31" fill="#000"/>
<rect x="1076.5" y="232.5" width="4" height="18" fill="#fff" stroke="#000" stroke-width="1"/>
<rect x="1086" y="229" width="1" height="26" fill="#000"/>
<rect x="1084" y="232" width="5" height="3" fill="#000"/>
<rect x="1094" y="225" width="1" height="23" fill="#000"/>
<rect x="1092" y="232" width="5" height="2" fill="#000"/>
<rect x="1102" y="214" width="1" height="23" fill="#000"/>
<rect x="1100.5" y="217.5" width="4" height="16" fill="#fff" stroke="#000" stroke-width="1"/>
<rect x="1110" y="214" width="1" height="6" fill="#000"/>
<rect x="1108" y="216" width="5" height="2" fill="#000"/>
<rect x="1118" y="190" width="1" height="28" fill="#000"/>
<rect x="1116.5" y="193.5" width="4" height="24" fill="#fff" stroke="#000" stroke-width="1"/>
<rect x="1126" y="177" width="1" height="30" fill="#000"/>
<rect x="1124.5" y="184.5" width="4" height="10" fill="#fff" stroke="#000" stroke-width="1"/>
<rect x="1134" y="162" width="1" height="27" fill="#000"/>
<rect x="1132.5" y="172.5" width="4" height="13" fill="#fff" stroke="#000" stroke-width="1"/>
<rect x="1142" y="136" width="1" height="45" fill="#000"/>
<rect x="1140.5" y="137.5" width="4" height="35" fill="#fff" stroke="#000" stroke-width="1"/>
<rect x="1150" y="123" width="1" height="23" fill="#000"/>
<rect x="1148" y="137" width="5" height="5" fill="#000"/>
<rect x="1158" y="139" width="1" height="7" fill="#000"/>
<rect x="1156" y="141" width="5" height="2" fill="#000"/>
<rect x="1166" y="138" width="1" height="28" fill="#000"/>
<rect x="1164" y="141" width="5" height="7" fill="#000"/>
<rect x="1174" y="139" width="1" height="33" fill="#000"/>
<rect x="1172.5" y="144.5" width="4" height="3" fill="#fff" stroke="#000" stroke-width="1"/>
<rect x="1182" y="125" width="1" height="28" fill="#000"/>
<rect x="1180.5" y="135.5" width="4" height="10" fill="#fff" stroke="#000" stroke-width="1"/>
<rect x="1190" y="119" width="1" height="19" fill="#000"/>
<rect x="1188.5" y="132.5" width="4" height="3" fill="#fff" stroke="#000" stroke-width="1"/>
<rect x="1198" y="129" width="1" height="36" fill="#000"/>
<rect x="1196" y="131" width="5" height="24" fill="#000"/>
<rect x="1206" y="153" width="1" height="3" fill="#000"/>
<rect x="1204.5" y="153.5" width="4" height="2" fill="#fff" stroke="#000" stroke-width="1"/>
<rect x="1214" y="140" width="1" height="23" fill="#000"/>
<rect x="1212.5" y="146.5" width="4" height="8" fill="#fff" stroke="#000" stroke-width="1"/>
<rect x="1222" y="133" width="1" height="23" fill="#000"/>
<rect x="1220" y="147" width="5" height="8" fill="#000"/>
<rect x="1230" y="149" width="1" height="17" fill="#000"/>
<rect x="1228" y="153" width="5" height="3" fill="#000"/>
<rect x="1238" y="135" width="1" height="21" fill="#000"/>
<rect x="1236.5" y="149.5" width="4" height="6" fill="#fff" stroke="#000" stroke-width="1"/>
<rect x="1246" y="130" width="1" height="25" fill="#000"/>
<rect x="1244.5" y="143.5" width="4" height="6" fill="#fff" stroke="#000" stroke-width="1"/>
<rect x="1254" y="139" width="1" height="4" fill="#000"/>
<rect x="1252.5" y="139.5" width="4" height="3" fill="#fff" stroke="#000" stroke-width="1"/>
<rect x="1262" y="135" width="1" height="14" fill="#000"/>
<rect x="1260" y="139" width="5" height="2" fill="#000"/>
<rect x="1270" y="102" width="1" height="39" fill="#000"/>
<rect x="1268.5" y="103.5" width="4" height="37" fill="#fff" stroke="#000" stroke-width="1"/>
<rect x="1278" y="99" width="1" height="46" fill="#000"/>
<rect x="1276" y="103" width="5" height="37" fill="#000"/>
<rect x="1286" y="110" width="1" height="41" fill="#000"/>
<rect x="1284.5" y="111.5" width="4" height="28" fill="#fff" stroke="#000" stroke-width="1"/>
<rect x="1294" y="102" width="1" height="51" fill="#000"/>
<rect x="1292" y="111" width="5" height="33" fill="#000"/>
<rect x="1302" y="140" width="1" height="5" fill="#000"/>
<rect x="1300" y="141" width="5" height="2" fill="#000"/>
<rect x="1310" y="129" width="1" height="25" fill="#000"/>
<rect x="1308" y="143" width="5" height="7" fill="#000"/>
<rect x="1318" y="123" width="1" height="30" fill="#000"/>
<rect x="1316.5" y="128.5" width="4" height="21" fill="#fff" stroke="#000" stroke-width="1"/>
<rect x="1326" y="110" width="1" height="28" fill="#000"/>
<rect x="1324.5" y="111.5" width="4" height="17" fill="#fff" stroke="#000" stroke-width="1"/>
<rect x="1334" y="95" width="1" height="33" fill="#000"/>
<rect x="1332" y="111" width="5" height="7" fill="#000"/>
<rect x="1342" y="77" width="1" height="44" fill="#000"/>
<rect x="1340.5" y="81.5" width="4" height="36" fill="#fff" stroke="#000" stroke-width="1"/>
<rect x="1350" y="77" width="1" height="5" fill="#000"/>
<rect x="1348.5" y="78.5" width="4" height="2" fill="#fff" stroke="#000" stroke-width="1"/>
<rect x="1358" y="67" width="1" height="26" fill="#000"/>
<rect x="1356.5" y="76.5" width="4" height="3" fill="#fff" stroke="#000" stroke-width="1"/>
<rect x="1366" y="46" width="1" height="33" fill="#000"/>
<rect x="1364.5" y="67.5" width="4" height="9" fill="#fff" stroke="#000" stroke-width="1"/>
<rect x="1374" y="66" width="1" height="31" fill="#000"/>
<rect x="1372" y="67" width="5" height="14" fill="#000"/>
<rect x="1382" y="79" width="1" height="28" fill="#000"/>
<rect x="1380" y="79" width="5" height="23" fill="#000"/>
<rect x="1390" y="87" width="1" height="37" fill="#000"/>
<rect x="1388.5" y="94.5" width="4" height="7" fill="#fff" stroke="#000" stroke-width="1"/>
<rect x="1398" y="102" width="1" height="4" fill="#000"/>
<rect x="1396" y="103" width="5" height="3" fill="#000"/>
<rect x="1406" y="102" width="1" height="31" fill="#000"/>
<rect x="1404" y="104" width="5" height="24" fill="#000"/>
<rect x="1414" y="124" width="1" height="56" fill="#000"/>
<rect x="1412" y="126" width="5" height="50" fill="#000"/>
<rect x="1422" y="160" width="1" height="34" fill="#000"/>
<rect x="1420.5" y="166.5" width="4" height="9" fill="#fff" stroke="#000" stroke-width="1"/>
<rect x="1430" y="157" width="1" height="66" fill="#000"/>
<rect x="1428" y="166" width="5" height="49" fill="#000"/>
<rect x="1438" y="201" width="1" height="25" fill="#000"/>
<rect x="1436" y="213" width="5" height="6" fill="#000"/>
<rect x="1446" y="211" width="1" height="6" fill="#000"/>
<rect x="1444" y="213" width="5" height="2" fill="#000"/>
<rect x="1454" y="185" width="1" height="34" fill="#000"/>
<rect x="1452.5" y="203.5" width="4" height="10" fill="#fff" stroke="#000" stroke-width="1"/>
<rect x="1462" y="184" width="1" height="29" fill="#000"/>
<rect x="1460.5" y="198.5" width="4" height="6" fill="#fff" stroke="#000" stroke-width="1"/>
<rect x="1470" y="168" width="1" height="31" fill="#000"/>
<rect x="1468.5" y="175.5" width="4" height="23" fill="#fff" stroke="#000" stroke-width="1"/>
<rect x="1478" y="166" width="1" height="28" fill="#000"/>
<rect x="1476.5" y="172.5" width="4" height="8" fill="#fff" stroke="#000" stroke-width="1"/>
<rect x="1486" y="165" width="1" height="22" fill="#000"/>
<rect x="1484" y="171" width="5" height="14" fill="#000"/>
<rect x="1494" y="181" width="1" height="4" fill="#000"/>
<rect x="1492" y="182" width="5" height="2" fill="#000"/>
<rect x="1502" y="174" width="1" height="49" fill="#000"/>
<rect x="1500" y="182" width="5" height="31" fill="#000"/>
</g>
<polygon points="1516,20 1526,20 1521,25.5" fill="#b4b4b4"/>
<rect x="1392" y="193.5" width="148" height="7.5" fill="#00ff00"/>
<line x1="1469" y1="164.5" x2="1521" y2="231.5" stroke="#ff0000" stroke-width="3.2"/>
<polygon points="1527,239.5 1516.5,233 1524,226.5" fill="#ff0000"/>
<rect x="1287" y="197" width="10" height="1" fill="#ff0000" shape-rendering="crispEdges"/>
<rect x="1297.5" y="185.5" width="73" height="24" fill="#fff" stroke="#ff0000" stroke-width="1" shape-rendering="crispEdges"/>
<text x="1298.6" y="206.3" font-size="24.6" fill="#ff0000" textLength="70.5" lengthAdjust="spacingAndGlyphs" >1.28703</text>
<text x="1371" y="259.7" font-size="20" font-weight="600" fill="#00ff00" font-family="Liberation Serif, Noto Serif CJK SC, serif" textLength="112" lengthAdjust="spacing">多空转折点</text>
</g>
<polygon points="1,30.6 8.6,30.6 4.8,26" fill="#000"/>
<text x="13" y="31" font-size="9.7" fill="#000" textLength="213.5" lengthAdjust="spacingAndGlyphs" xml:space="preserve">GBPUSD-,Daily  1.29311 1.29656 1.27744 1.28133</text>
<g>
<path d="M1.5,39.5 H52.5 V63.5 H109.5 V102.5 H1.5 Z" fill="url(#gr)" stroke="#b00000" stroke-width="1"/>
<path d="M219.5,39.5 H168.5 V63.5 H112.5 V102.5 H219.5 Z" fill="url(#gr)" stroke="#b00000" stroke-width="1"/>
<g shape-rendering="crispEdges"><rect x="5" y="62" width="44" height="1" fill="#8a0000"/><rect x="5" y="63" width="44" height="1" fill="#f08080"/>
<rect x="172" y="62" width="44" height="1" fill="#8a0000"/><rect x="172" y="63" width="44" height="1" fill="#f08080"/></g>
<g shape-rendering="crispEdges"><rect x="55.5" y="39.5" width="111" height="21" fill="#fff" stroke="#a8a8b0" stroke-width="1"/>
<rect x="57" y="41" width="19" height="18" fill="url(#gb)"/><rect x="76" y="40" width="1" height="20" fill="#a8a8b0"/>
<rect x="146" y="41" width="19" height="18" fill="url(#gb)"/><rect x="144" y="40" width="1" height="20" fill="#a8a8b0"/></g>
<polygon points="63,47.5 69,47.5 66,51" fill="#4a5fc4"/>
<polygon points="152,51 158,51 155,47.5" fill="#4a5fc4"/>
<text x="141" y="53.7" font-size="12" fill="#000" textLength="23" lengthAdjust="spacingAndGlyphs" text-anchor="end" >1.00</text>
<text x="13.4" y="55" font-size="12.3" fill="#fff" textLength="25.5" lengthAdjust="spacingAndGlyphs" >SELL</text>
<text x="181.6" y="55" font-size="12.3" fill="#fff" textLength="23" lengthAdjust="spacingAndGlyphs" >BUY</text>
<text x="21.2" y="93.7" font-size="12" fill="#fff" textLength="24" lengthAdjust="spacingAndGlyphs" font-weight="bold" >1.28</text>
<text x="131.4" y="93.7" font-size="12" fill="#fff" textLength="24" lengthAdjust="spacingAndGlyphs" font-weight="bold" >1.28</text>
<text x="48" y="94" font-size="35.5" fill="#fff" textLength="35" lengthAdjust="spacingAndGlyphs" >13</text>
<text x="158.8" y="94" font-size="35.5" fill="#fff" textLength="36" lengthAdjust="spacingAndGlyphs" >16</text>
<text x="88.3" y="78" font-size="11.5" fill="#fff" font-weight="bold" >3</text>
<text x="199" y="78" font-size="11.5" fill="#fff" font-weight="bold" >8</text>
</g>
<g shape-rendering="crispEdges">
<rect x="1692" y="41" width="3" height="1" fill="#000"/>
<rect x="1692" y="74" width="3" height="1" fill="#000"/>
<rect x="1692" y="107" width="3" height="1" fill="#000"/>
<rect x="1692" y="140" width="3" height="1" fill="#000"/>
<rect x="1692" y="173" width="3" height="1" fill="#000"/>
<rect x="1692" y="206" width="3" height="1" fill="#000"/>
<rect x="1692" y="239" width="3" height="1" fill="#000"/>
<rect x="1692" y="272" width="3" height="1" fill="#000"/>
<rect x="1692" y="305" width="3" height="1" fill="#000"/>
<rect x="1692" y="338" width="3" height="1" fill="#000"/>
<rect x="1692" y="371" width="3" height="1" fill="#000"/>
<rect x="1692" y="404" width="3" height="1" fill="#000"/>
<rect x="1692" y="437" width="3" height="1" fill="#000"/>
<rect x="1692" y="470" width="3" height="1" fill="#000"/>
<rect x="1692" y="503" width="3" height="1" fill="#000"/>
<rect x="1692" y="536" width="3" height="1" fill="#000"/>
<rect x="1692" y="569" width="3" height="1" fill="#000"/>
</g>
<text x="1697" y="44.5" font-size="10" fill="#000" textLength="33" lengthAdjust="spacingAndGlyphs" >1.35040</text>
<text x="1697" y="77.5" font-size="10" fill="#000" textLength="33" lengthAdjust="spacingAndGlyphs" >1.33680</text>
<text x="1697" y="110.5" font-size="10" fill="#000" textLength="33" lengthAdjust="spacingAndGlyphs" >1.32360</text>
<text x="1697" y="143.5" font-size="10" fill="#000" textLength="33" lengthAdjust="spacingAndGlyphs" >1.31000</text>
<text x="1697" y="176.5" font-size="10" fill="#000" textLength="33" lengthAdjust="spacingAndGlyphs" >1.29680</text>
<text x="1697" y="209.5" font-size="10" fill="#000" textLength="33" lengthAdjust="spacingAndGlyphs" >1.28360</text>
<text x="1697" y="242.5" font-size="10" fill="#000" textLength="33" lengthAdjust="spacingAndGlyphs" >1.27000</text>
<text x="1697" y="275.5" font-size="10" fill="#000" textLength="33" lengthAdjust="spacingAndGlyphs" >1.25680</text>
<text x="1697" y="308.5" font-size="10" fill="#000" textLength="33" lengthAdjust="spacingAndGlyphs" >1.24360</text>
<text x="1697" y="341.5" font-size="10" fill="#000" textLength="33" lengthAdjust="spacingAndGlyphs" >1.23000</text>
<text x="1697" y="374.5" font-size="10" fill="#000" textLength="33" lengthAdjust="spacingAndGlyphs" >1.21680</text>
<text x="1697" y="407.5" font-size="10" fill="#000" textLength="33" lengthAdjust="spacingAndGlyphs" >1.20320</text>
<text x="1697" y="440.5" font-size="10" fill="#000" textLength="33" lengthAdjust="spacingAndGlyphs" >1.19000</text>
<text x="1697" y="473.5" font-size="10" fill="#000" textLength="33" lengthAdjust="spacingAndGlyphs" >1.17680</text>
<text x="1697" y="506.5" font-size="10" fill="#000" textLength="33" lengthAdjust="spacingAndGlyphs" >1.16320</text>
<text x="1697" y="539.5" font-size="10" fill="#000" textLength="33" lengthAdjust="spacingAndGlyphs" >1.15000</text>
<text x="1697" y="572.5" font-size="10" fill="#000" textLength="33" lengthAdjust="spacingAndGlyphs" >1.13680</text>
<rect x="1693" y="146" width="41" height="11" fill="#ff0000" shape-rendering="crispEdges"/>
<text x="1697" y="155.5" font-size="10" fill="#fff" textLength="33" lengthAdjust="spacingAndGlyphs" >1.30520</text>
<rect x="1693" y="176" width="41" height="11" fill="#ff4500" shape-rendering="crispEdges"/>
<text x="1697" y="185.5" font-size="10" fill="#fff" textLength="33" lengthAdjust="spacingAndGlyphs" >1.29308</text>
<rect x="1693" y="191" width="41" height="11" fill="#32cd32" shape-rendering="crispEdges"/>
<text x="1697" y="200.5" font-size="10" fill="#fff" textLength="33" lengthAdjust="spacingAndGlyphs" >1.28703</text>
<rect x="1693" y="206" width="41" height="11" fill="#000000" shape-rendering="crispEdges"/>
<text x="1697" y="215.5" font-size="10" fill="#fff" textLength="33" lengthAdjust="spacingAndGlyphs" >1.28133</text>
<rect x="1693" y="221" width="41" height="11" fill="#0000ff" shape-rendering="crispEdges"/>
<text x="1697" y="230.5" font-size="10" fill="#fff" textLength="33" lengthAdjust="spacingAndGlyphs" >1.27491</text>
<rect x="1693" y="237" width="41" height="11" fill="#0000ff" shape-rendering="crispEdges"/>
<text x="1697" y="246.5" font-size="10" fill="#fff" textLength="33" lengthAdjust="spacingAndGlyphs" >1.26845</text>
<g shape-rendering="crispEdges">
<rect x="6" y="629" width="1" height="8" fill="#c0c0c0"/>
<rect x="14" y="629" width="1" height="6" fill="#c0c0c0"/>
<rect x="22" y="629" width="1" height="5" fill="#c0c0c0"/>
<rect x="30" y="629" width="1" height="5" fill="#c0c0c0"/>
<rect x="38" y="629" width="1" height="7" fill="#c0c0c0"/>
<rect x="46" y="629" width="1" height="8" fill="#c0c0c0"/>
<rect x="54" y="629" width="1" height="8" fill="#c0c0c0"/>
<rect x="62" y="629" width="1" height="8" fill="#c0c0c0"/>
<rect x="70" y="629" width="1" height="8" fill="#c0c0c0"/>
<rect x="78" y="629" width="1" height="8" fill="#c0c0c0"/>
<rect x="86" y="629" width="1" height="8" fill="#c0c0c0"/>
<rect x="94" y="629" width="1" height="8" fill="#c0c0c0"/>
<rect x="102" y="629" width="1" height="11" fill="#c0c0c0"/>
<rect x="110" y="629" width="1" height="14" fill="#c0c0c0"/>
<rect x="118" y="629" width="1" height="16" fill="#c0c0c0"/>
<rect x="126" y="629" width="1" height="16" fill="#c0c0c0"/>
<rect x="134" y="629" width="1" height="15" fill="#c0c0c0"/>
<rect x="142" y="629" width="1" height="12" fill="#c0c0c0"/>
<rect x="150" y="629" width="1" height="9" fill="#c0c0c0"/>
<rect x="158" y="629" width="1" height="4" fill="#c0c0c0"/>
<rect x="174" y="629" width="1" height="2" fill="#c0c0c0"/>
<rect x="182" y="629" width="1" height="5" fill="#c0c0c0"/>
<rect x="190" y="629" width="1" height="12" fill="#c0c0c0"/>
<rect x="198" y="629" width="1" height="24" fill="#c0c0c0"/>
<rect x="206" y="629" width="1" height="33" fill="#c0c0c0"/>
<rect x="214" y="629" width="1" height="40" fill="#c0c0c0"/>
<rect x="222" y="629" width="1" height="50" fill="#c0c0c0"/>
<rect x="230" y="629" width="1" height="70" fill="#c0c0c0"/>
<rect x="238" y="629" width="1" height="87" fill="#c0c0c0"/>
<rect x="246" y="629" width="1" height="97" fill="#c0c0c0"/>
<rect x="254" y="629" width="1" height="103" fill="#c0c0c0"/>
<rect x="262" y="629" width="1" height="107" fill="#c0c0c0"/>
<rect x="270" y="629" width="1" height="105" fill="#c0c0c0"/>
<rect x="278" y="629" width="1" height="100" fill="#c0c0c0"/>
<rect x="286" y="629" width="1" height="87" fill="#c0c0c0"/>
<rect x="294" y="629" width="1" height="69" fill="#c0c0c0"/>
<rect x="302" y="629" width="1" height="55" fill="#c0c0c0"/>
<rect x="310" y="629" width="1" height="45" fill="#c0c0c0"/>
<rect x="318" y="629" width="1" height="36" fill="#c0c0c0"/>
<rect x="326" y="629" width="1" height="29" fill="#c0c0c0"/>
<rect x="334" y="629" width="1" height="24" fill="#c0c0c0"/>
<rect x="342" y="629" width="1" height="21" fill="#c0c0c0"/>
<rect x="350" y="629" width="1" height="21" fill="#c0c0c0"/>
<rect x="358" y="629" width="1" height="19" fill="#c0c0c0"/>
<rect x="366" y="629" width="1" height="16" fill="#c0c0c0"/>
<rect x="374" y="629" width="1" height="11" fill="#c0c0c0"/>
<rect x="382" y="629" width="1" height="7" fill="#c0c0c0"/>
<rect x="390" y="629" width="1" height="3" fill="#c0c0c0"/>
<rect x="398" y="628" width="1" height="1" fill="#c0c0c0"/>
<rect x="406" y="621" width="1" height="8" fill="#c0c0c0"/>
<rect x="414" y="619" width="1" height="10" fill="#c0c0c0"/>
<rect x="422" y="618" width="1" height="11" fill="#c0c0c0"/>
<rect x="430" y="618" width="1" height="11" fill="#c0c0c0"/>
<rect x="438" y="617" width="1" height="12" fill="#c0c0c0"/>
<rect x="446" y="618" width="1" height="11" fill="#c0c0c0"/>
<rect x="454" y="623" width="1" height="6" fill="#c0c0c0"/>
<rect x="462" y="626" width="1" height="3" fill="#c0c0c0"/>
<rect x="470" y="627" width="1" height="2" fill="#c0c0c0"/>
<rect x="478" y="628" width="1" height="1" fill="#c0c0c0"/>
<rect x="486" y="628" width="1" height="1" fill="#c0c0c0"/>
<rect x="494" y="628" width="1" height="1" fill="#c0c0c0"/>
<rect x="502" y="626" width="1" height="3" fill="#c0c0c0"/>
<rect x="510" y="625" width="1" height="4" fill="#c0c0c0"/>
<rect x="518" y="622" width="1" height="7" fill="#c0c0c0"/>
<rect x="526" y="622" width="1" height="7" fill="#c0c0c0"/>
<rect x="534" y="622" width="1" height="7" fill="#c0c0c0"/>
<rect x="542" y="622" width="1" height="7" fill="#c0c0c0"/>
<rect x="550" y="623" width="1" height="6" fill="#c0c0c0"/>
<rect x="558" y="625" width="1" height="4" fill="#c0c0c0"/>
<rect x="566" y="627" width="1" height="2" fill="#c0c0c0"/>
<rect x="574" y="628" width="1" height="1" fill="#c0c0c0"/>
<rect x="582" y="628" width="1" height="1" fill="#c0c0c0"/>
<rect x="598" y="629" width="1" height="5" fill="#c0c0c0"/>
<rect x="606" y="629" width="1" height="8" fill="#c0c0c0"/>
<rect x="614" y="629" width="1" height="11" fill="#c0c0c0"/>
<rect x="622" y="629" width="1" height="15" fill="#c0c0c0"/>
<rect x="630" y="629" width="1" height="19" fill="#c0c0c0"/>
<rect x="638" y="629" width="1" height="20" fill="#c0c0c0"/>
<rect x="646" y="629" width="1" height="18" fill="#c0c0c0"/>
<rect x="654" y="629" width="1" height="17" fill="#c0c0c0"/>
<rect x="662" y="629" width="1" height="17" fill="#c0c0c0"/>
<rect x="670" y="629" width="1" height="18" fill="#c0c0c0"/>
<rect x="678" y="629" width="1" height="18" fill="#c0c0c0"/>
<rect x="686" y="629" width="1" height="18" fill="#c0c0c0"/>
<rect x="694" y="629" width="1" height="13" fill="#c0c0c0"/>
<rect x="702" y="629" width="1" height="11" fill="#c0c0c0"/>
<rect x="710" y="629" width="1" height="9" fill="#c0c0c0"/>
<rect x="718" y="629" width="1" height="7" fill="#c0c0c0"/>
<rect x="726" y="629" width="1" height="5" fill="#c0c0c0"/>
<rect x="742" y="622" width="1" height="7" fill="#c0c0c0"/>
<rect x="750" y="618" width="1" height="11" fill="#c0c0c0"/>
<rect x="758" y="613" width="1" height="16" fill="#c0c0c0"/>
<rect x="766" y="609" width="1" height="20" fill="#c0c0c0"/>
<rect x="774" y="604" width="1" height="25" fill="#c0c0c0"/>
<rect x="782" y="600" width="1" height="29" fill="#c0c0c0"/>
<rect x="790" y="598" width="1" height="31" fill="#c0c0c0"/>
<rect x="798" y="597" width="1" height="32" fill="#c0c0c0"/>
<rect x="806" y="600" width="1" height="29" fill="#c0c0c0"/>
<rect x="814" y="604" width="1" height="25" fill="#c0c0c0"/>
<rect x="822" y="607" width="1" height="22" fill="#c0c0c0"/>
<rect x="830" y="607" width="1" height="22" fill="#c0c0c0"/>
<rect x="838" y="609" width="1" height="20" fill="#c0c0c0"/>
<rect x="846" y="611" width="1" height="18" fill="#c0c0c0"/>
<rect x="854" y="616" width="1" height="13" fill="#c0c0c0"/>
<rect x="862" y="621" width="1" height="8" fill="#c0c0c0"/>
<rect x="870" y="626" width="1" height="3" fill="#c0c0c0"/>
<rect x="878" y="626" width="1" height="3" fill="#c0c0c0"/>
<rect x="886" y="625" width="1" height="4" fill="#c0c0c0"/>
<rect x="894" y="628" width="1" height="1" fill="#c0c0c0"/>
<rect x="910" y="629" width="1" height="3" fill="#c0c0c0"/>
<rect x="918" y="629" width="1" height="6" fill="#c0c0c0"/>
<rect x="926" y="629" width="1" height="9" fill="#c0c0c0"/>
<rect x="934" y="629" width="1" height="9" fill="#c0c0c0"/>
<rect x="942" y="629" width="1" height="7" fill="#c0c0c0"/>
<rect x="950" y="628" width="1" height="1" fill="#c0c0c0"/>
<rect x="958" y="628" width="1" height="1" fill="#c0c0c0"/>
<rect x="966" y="628" width="1" height="1" fill="#c0c0c0"/>
<rect x="982" y="628" width="1" height="1" fill="#c0c0c0"/>
<rect x="990" y="625" width="1" height="4" fill="#c0c0c0"/>
<rect x="998" y="622" width="1" height="7" fill="#c0c0c0"/>
<rect x="1006" y="620" width="1" height="9" fill="#c0c0c0"/>
<rect x="1014" y="618" width="1" height="11" fill="#c0c0c0"/>
<rect x="1022" y="619" width="1" height="10" fill="#c0c0c0"/>
<rect x="1030" y="619" width="1" height="10" fill="#c0c0c0"/>
<rect x="1038" y="619" width="1" height="10" fill="#c0c0c0"/>
<rect x="1046" y="620" width="1" height="9" fill="#c0c0c0"/>
<rect x="1054" y="620" width="1" height="9" fill="#c0c0c0"/>
<rect x="1062" y="620" width="1" height="9" fill="#c0c0c0"/>
<rect x="1070" y="618" width="1" height="11" fill="#c0c0c0"/>
<rect x="1078" y="615" width="1" height="14" fill="#c0c0c0"/>
<rect x="1086" y="613" width="1" height="16" fill="#c0c0c0"/>
<rect x="1094" y="612" width="1" height="17" fill="#c0c0c0"/>
<rect x="1102" y="610" width="1" height="19" fill="#c0c0c0"/>
<rect x="1110" y="608" width="1" height="21" fill="#c0c0c0"/>
<rect x="1118" y="605" width="1" height="24" fill="#c0c0c0"/>
<rect x="1126" y="601" width="1" height="28" fill="#c0c0c0"/>
<rect x="1134" y="598" width="1" height="31" fill="#c0c0c0"/>
<rect x="1142" y="592" width="1" height="37" fill="#c0c0c0"/>
<rect x="1150" y="589" width="1" height="40" fill="#c0c0c0"/>
<rect x="1158" y="586" width="1" height="43" fill="#c0c0c0"/>
<rect x="1166" y="585" width="1" height="44" fill="#c0c0c0"/>
<rect x="1174" y="585" width="1" height="44" fill="#c0c0c0"/>
<rect x="1182" y="584" width="1" height="45" fill="#c0c0c0"/>
<rect x="1190" y="584" width="1" height="45" fill="#c0c0c0"/>
<rect x="1198" y="587" width="1" height="42" fill="#c0c0c0"/>
<rect x="1206" y="589" width="1" height="40" fill="#c0c0c0"/>
<rect x="1214" y="590" width="1" height="39" fill="#c0c0c0"/>
<rect x="1222" y="593" width="1" height="36" fill="#c0c0c0"/>
<rect x="1230" y="595" width="1" height="34" fill="#c0c0c0"/>
<rect x="1238" y="597" width="1" height="32" fill="#c0c0c0"/>
<rect x="1246" y="598" width="1" height="31" fill="#c0c0c0"/>
<rect x="1254" y="599" width="1" height="30" fill="#c0c0c0"/>
<rect x="1262" y="600" width="1" height="29" fill="#c0c0c0"/>
<rect x="1270" y="598" width="1" height="31" fill="#c0c0c0"/>
<rect x="1278" y="600" width="1" height="29" fill="#c0c0c0"/>
<rect x="1286" y="599" width="1" height="30" fill="#c0c0c0"/>
<rect x="1294" y="602" width="1" height="27" fill="#c0c0c0"/>
<rect x="1302" y="604" width="1" height="25" fill="#c0c0c0"/>
<rect x="1310" y="607" width="1" height="22" fill="#c0c0c0"/>
<rect x="1318" y="608" width="1" height="21" fill="#c0c0c0"/>
<rect x="1326" y="607" width="1" height="22" fill="#c0c0c0"/>
<rect x="1334" y="607" width="1" height="22" fill="#c0c0c0"/>
<rect x="1342" y="603" width="1" height="26" fill="#c0c0c0"/>
<rect x="1350" y="601" width="1" height="28" fill="#c0c0c0"/>
<rect x="1358" y="599" width="1" height="30" fill="#c0c0c0"/>
<rect x="1366" y="597" width="1" height="32" fill="#c0c0c0"/>
<rect x="1374" y="597" width="1" height="32" fill="#c0c0c0"/>
<rect x="1382" y="601" width="1" height="28" fill="#c0c0c0"/>
<rect x="1390" y="601" width="1" height="28" fill="#c0c0c0"/>
<rect x="1398" y="604" width="1" height="25" fill="#c0c0c0"/>
<rect x="1406" y="608" width="1" height="21" fill="#c0c0c0"/>
<rect x="1414" y="617" width="1" height="12" fill="#c0c0c0"/>
<rect x="1422" y="623" width="1" height="6" fill="#c0c0c0"/>
<rect x="1430" y="629" width="1" height="2" fill="#c0c0c0"/>
<rect x="1438" y="629" width="1" height="9" fill="#c0c0c0"/>
<rect x="1446" y="629" width="1" height="15" fill="#c0c0c0"/>
<rect x="1454" y="629" width="1" height="18" fill="#c0c0c0"/>
<rect x="1462" y="629" width="1" height="19" fill="#c0c0c0"/>
<rect x="1470" y="629" width="1" height="19" fill="#c0c0c0"/>
<rect x="1478" y="629" width="1" height="18" fill="#c0c0c0"/>
<rect x="1486" y="629" width="1" height="18" fill="#c0c0c0"/>
<rect x="1494" y="629" width="1" height="18" fill="#c0c0c0"/>
<rect x="1502" y="629" width="1" height="19" fill="#c0c0c0"/>
</g>
<polyline points="0.5,637.0 25.8,637.8 63.8,635.8 89.1,635.8 114.4,638.3 134.7,641.1 149.9,642.1 165.1,639.8 182.8,637.8 203.0,638.6 215.7,643.4 228.3,651.7 241.0,666.9 253.7,684.6 266.3,701.1 279.0,713.2 289.1,719.3 295.4,720.8 306.8,717.5 319.5,706.1 334.7,689.7 349.9,672.0 365.1,659.3 380.2,650.4 400.5,641.6 420.8,632.2 430.5,628.2 438.1,624.6 453.3,621.3 471.0,620.8 483.7,621.8 493.8,623.9 511.5,625.9 531.8,625.9 549.5,625.1 559.6,623.9 577.3,623.9 587.5,625.6 605.2,628.2 620.4,632.2 633.0,636.0 648.2,640.3 663.4,642.3 678.6,646.1 688.7,647.2 706.5,645.9 719.1,642.9 734.3,639.8 749.5,634.0 764.7,627.7 779.9,620.1 795.1,612.5 810.2,606.1 825.4,603.6 840.6,602.9 855.8,604.9 866.3,608.7 877.7,613.7 890.3,617.0 903.0,620.8 915.7,625.1 925.8,628.4 938.4,631.5 951.1,633.2 968.8,634.0 984.0,634.0 996.7,631.5 1009.3,628.4 1024.5,625.1 1039.7,622.6 1054.9,620.6 1065.0,618.8 1080.2,618.8 1095.4,617.0 1108.1,615.0 1123.3,612.0 1135.9,608.7 1148.6,604.4 1161.2,599.1 1176.4,593.5 1189.1,589.7 1201.7,587.2 1224.5,586.7 1242.2,589.2 1257.4,592.7 1272.6,595.3 1287.8,597.8 1297.9,599.1 1320.7,601.8 1343.5,603.6 1366.3,603.6 1381.5,601.6 1406.8,600.6 1414.4,603.1 1424.5,604.9 1434.7,611.2 1449.8,620.1 1462.5,628.9 1472.6,634.5 1485.3,640.8 1502.5,647.2" fill="none" stroke="#ff0000" stroke-width="1" stroke-dasharray="3 3" shape-rendering="crispEdges"/>
<text x="2" y="587" font-size="10" fill="#000" textLength="153.5" lengthAdjust="spacingAndGlyphs" >MACD(12,26,9) -0.006497 -0.005729</text>
<g shape-rendering="crispEdges"><rect x="1692" y="576" width="3" height="1" fill="#000"/><rect x="1692" y="629" width="3" height="1" fill="#000"/><rect x="1692" y="743" width="3" height="1" fill="#000"/></g>
<text x="1696" y="585" font-size="10" fill="#000" textLength="37.5" lengthAdjust="spacingAndGlyphs" >0.017833</text>
<text x="1696" y="633" font-size="10" fill="#000" textLength="18" lengthAdjust="spacingAndGlyphs" >0.00</text>
<text x="1696" y="741.5" font-size="10" fill="#000" textLength="41" lengthAdjust="spacingAndGlyphs" >-0.038559</text>
<g shape-rendering="crispEdges">
<line x1="3" y1="782.5" x2="1689" y2="782.5" stroke="#c0c0c0" stroke-width="1" stroke-dasharray="3 3"/>
<line x1="3" y1="833.5" x2="1689" y2="833.5" stroke="#c0c0c0" stroke-width="1" stroke-dasharray="3 3"/>
<line x1="3" y1="894.5" x2="1689" y2="894.5" stroke="#c0c0c0" stroke-width="1" stroke-dasharray="3 3"/>
</g>
<polyline points="0.5,829.5 6.5,831.8 14.5,829.5 22.5,836.4 30.5,838.1 38.5,847.3 46.5,853.3 54.5,837.6 62.5,840.7 70.5,844.5 78.5,833.1 86.5,844.5 94.5,848.3 102.5,857.9 110.5,854.9 118.5,858.7 126.5,849.8 134.5,841.9 142.5,832.6 150.5,824.2 158.5,815.4 166.5,819.2 174.5,839.7 182.5,848.3 190.5,864.2 198.5,876.9 206.5,866.8 214.5,873.1 222.5,877.6 230.5,889.5 238.5,892.8 246.5,885.7 254.5,881.9 262.5,881.9 270.5,865.5 278.5,861.7 286.5,841.4 294.5,826.8 302.5,828.0 310.5,832.1 318.5,830.6 326.5,832.1 334.5,830.6 342.5,837.6 350.5,840.9 358.5,839.7 366.5,833.1 374.5,829.5 382.5,825.7 390.5,825.7 398.5,821.7 406.5,814.9 414.5,823.7 422.5,826.8 430.5,826.8 438.5,826.8 446.5,830.6 454.5,842.7 462.5,840.9 470.5,838.1 478.5,837.6 486.5,836.4 494.5,830.8 502.5,829.5 510.5,825.7 518.5,814.9 526.5,826.8 534.5,829.5 542.5,831.8 550.5,831.8 558.5,844.5 566.5,838.9 574.5,835.1 582.5,833.8 590.5,843.5 598.5,851.6 606.5,852.8 614.5,852.8 622.5,863.7 630.5,865.5 638.5,849.0 646.5,841.9 654.5,843.5 662.5,845.7 670.5,850.8 678.5,848.5 686.5,846.0 694.5,828.8 702.5,836.4 710.5,830.8 718.5,829.5 726.5,827.5 734.5,812.8 742.5,804.7 750.5,806.0 758.5,804.0 766.5,799.2 774.5,795.9 782.5,794.6 790.5,798.4 798.5,798.9 806.5,821.9 814.5,833.1 822.5,831.3 830.5,817.9 838.5,824.5 846.5,828.3 854.5,842.2 862.5,848.5 870.5,849.8 878.5,831.3 886.5,829.5 894.5,840.7 902.5,839.7 910.5,846.5 918.5,847.8 926.5,849.8 934.5,840.7 942.5,831.8 950.5,831.8 958.5,830.8 966.5,830.8 974.5,827.5 982.5,823.0 990.5,814.9 998.5,815.6 1006.5,812.8 1014.5,814.1 1022.5,826.8 1030.5,825.0 1038.5,821.7 1046.5,827.0 1054.5,825.7 1062.5,825.7 1070.5,812.8 1078.5,804.7 1086.5,806.0 1094.5,804.7 1102.5,799.2 1110.5,797.9 1118.5,790.0 1126.5,786.5 1134.5,782.7 1142.5,775.6 1150.5,778.7 1158.5,780.2 1166.5,784.5 1174.5,784.5 1182.5,781.9 1190.5,780.7 1198.5,802.7 1206.5,802.7 1214.5,799.7 1222.5,805.5 1230.5,807.8 1238.5,804.7 1246.5,802.2 1254.5,800.2 1262.5,799.7 1270.5,784.5 1278.5,815.6 1286.5,806.0 1294.5,825.0 1302.5,825.0 1310.5,828.0 1318.5,819.2 1326.5,811.8 1334.5,814.9 1342.5,802.7 1350.5,801.4 1358.5,801.4 1366.5,798.9 1374.5,808.0 1382.5,821.2 1390.5,817.9 1398.5,823.0 1406.5,833.8 1414.5,854.6 1422.5,850.8 1430.5,863.7 1438.5,865.0 1446.5,863.0 1454.5,857.9 1462.5,852.8 1470.5,843.2 1478.5,841.9 1486.5,847.0 1494.5,845.7 1502.5,855.9" fill="none" stroke="#1e90ff" stroke-width="1" shape-rendering="crispEdges"/>
<text x="2" y="759" font-size="10" fill="#000" textLength="68" lengthAdjust="spacingAndGlyphs" >RSI(14) 37.0682</text>
<g shape-rendering="crispEdges"><rect x="1692" y="748" width="3" height="1" fill="#000"/><rect x="1692" y="919" width="3" height="1" fill="#000"/></g>
<text x="1696" y="757" font-size="10" fill="#000" textLength="14.5" lengthAdjust="spacingAndGlyphs" >100</text>
<text x="1694" y="786" font-size="10" fill="#000" textLength="10" lengthAdjust="spacingAndGlyphs" >80</text>
<text x="1694" y="837" font-size="10" fill="#000" textLength="10" lengthAdjust="spacingAndGlyphs" >50</text>
<text x="1694" y="898" font-size="10" fill="#000" textLength="10" lengthAdjust="spacingAndGlyphs" >15</text>
<text x="1696" y="917" font-size="10" fill="#000" >0</text>
<g shape-rendering="crispEdges">
<rect x="62" y="921" width="1" height="3" fill="#000"/>
<rect x="126" y="921" width="1" height="3" fill="#000"/>
<rect x="190" y="921" width="1" height="3" fill="#000"/>
<rect x="254" y="921" width="1" height="3" fill="#000"/>
<rect x="318" y="921" width="1" height="3" fill="#000"/>
<rect x="382" y="921" width="1" height="3" fill="#000"/>
<rect x="446" y="921" width="1" height="3" fill="#000"/>
<rect x="510" y="921" width="1" height="3" fill="#000"/>
<rect x="574" y="921" width="1" height="3" fill="#000"/>
<rect x="638" y="921" width="1" height="3" fill="#000"/>
<rect x="702" y="921" width="1" height="3" fill="#000"/>
<rect x="766" y="921" width="1" height="3" fill="#000"/>
<rect x="830" y="921" width="1" height="3" fill="#000"/>
<rect x="894" y="921" width="1" height="3" fill="#000"/>
<rect x="958" y="921" width="1" height="3" fill="#000"/>
<rect x="1022" y="921" width="1" height="3" fill="#000"/>
<rect x="1086" y="921" width="1" height="3" fill="#000"/>
<rect x="1150" y="921" width="1" height="3" fill="#000"/>
<rect x="1214" y="921" width="1" height="3" fill="#000"/>
<rect x="1278" y="921" width="1" height="3" fill="#000"/>
<rect x="1342" y="921" width="1" height="3" fill="#000"/>
<rect x="1406" y="921" width="1" height="3" fill="#000"/>
<rect x="1470" y="921" width="1" height="3" fill="#000"/>
</g>
<g clip-path="url(#cax)">
<text transform="translate(-2.5,933) scale(0.925,1)" font-size="10" fill="#000">13 Feb 2020</text>
<text transform="translate(61.5,933) scale(0.925,1)" font-size="10" fill="#000">23 Feb 2020</text>
<text transform="translate(125.5,933) scale(0.925,1)" font-size="10" fill="#000">3 Mar 2020</text>
<text transform="translate(189.5,933) scale(0.925,1)" font-size="10" fill="#000">12 Mar 2020</text>
<text transform="translate(253.5,933) scale(0.925,1)" font-size="10" fill="#000">22 Mar 2020</text>
<text transform="translate(317.5,933) scale(0.925,1)" font-size="10" fill="#000">31 Mar 2020</text>
<text transform="translate(381.5,933) scale(0.925,1)" font-size="10" fill="#000">9 Apr 2020</text>
<text transform="translate(445.5,933) scale(0.925,1)" font-size="10" fill="#000">20 Apr 2020</text>
<text transform="translate(509.5,933) scale(0.925,1)" font-size="10" fill="#000">29 Apr 2020</text>
<text transform="translate(573.5,933) scale(0.925,1)" font-size="10" fill="#000">8 May 2020</text>
<text transform="translate(637.5,933) scale(0.925,1)" font-size="10" fill="#000">18 May 2020</text>
<text transform="translate(701.5,933) scale(0.925,1)" font-size="10" fill="#000">27 May 2020</text>
<text transform="translate(765.5,933) scale(0.925,1)" font-size="10" fill="#000">5 Jun 2020</text>
<text transform="translate(829.5,933) scale(0.925,1)" font-size="10" fill="#000">15 Jun 2020</text>
<text transform="translate(893.5,933) scale(0.925,1)" font-size="10" fill="#000">24 Jun 2020</text>
<text transform="translate(957.5,933) scale(0.925,1)" font-size="10" fill="#000">3 Jul 2020</text>
<text transform="translate(1021.5,933) scale(0.925,1)" font-size="10" fill="#000">13 Jul 2020</text>
<text transform="translate(1085.5,933) scale(0.925,1)" font-size="10" fill="#000">22 Jul 2020</text>
<text transform="translate(1149.5,933) scale(0.925,1)" font-size="10" fill="#000">31 Jul 2020</text>
<text transform="translate(1213.5,933) scale(0.925,1)" font-size="10" fill="#000">10 Aug 2020</text>
<text transform="translate(1277.5,933) scale(0.925,1)" font-size="10" fill="#000">19 Aug 2020</text>
<text transform="translate(1341.5,933) scale(0.925,1)" font-size="10" fill="#000">28 Aug 2020</text>
<text transform="translate(1405.5,933) scale(0.925,1)" font-size="10" fill="#000">7 Sep 2020</text>
<text transform="translate(1469.5,933) scale(0.925,1)" font-size="10" fill="#000">16 Sep 2020</text>
</g>
</svg>
</body></html>
